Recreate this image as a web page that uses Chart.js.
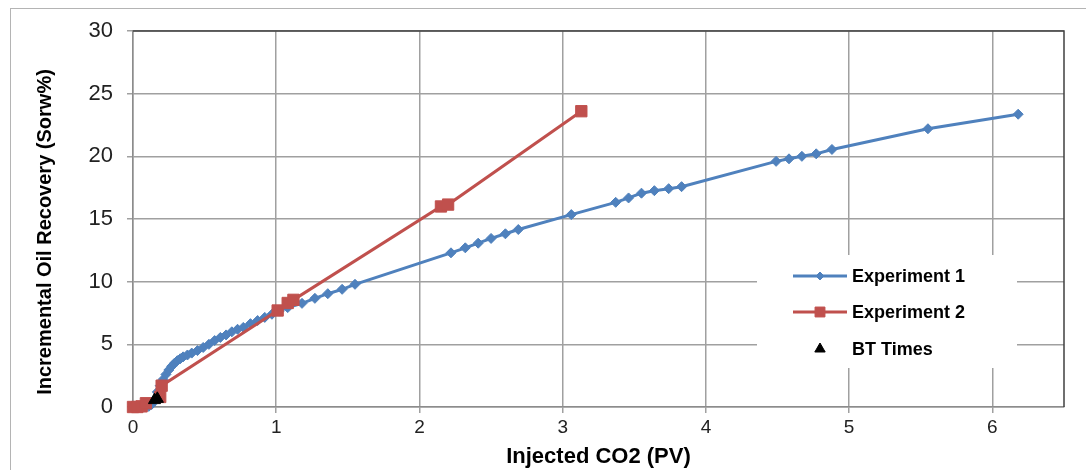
<!DOCTYPE html>
<html>
<head>
<meta charset="utf-8">
<title>Incremental Oil Recovery</title>
<script src="https://cdn.jsdelivr.net/npm/chart.js@4"></script>
<style>
  body { margin: 0; background: #fff; }
  canvas { display: block; }
</style>
</head>
<body>
<canvas id="myChart" width="1086" height="470"></canvas>
<script>
// injected CO2 (PV) vs incremental recovery (Sorw%)
let exp1X = [0.08, 0.11, 0.13, 0.15, 0.17, 0.19, 0.21, 0.23, 0.25, 0.27, 0.29, 0.31, 0.33, 0.35, 0.38, 0.41, 0.45, 0.49, 0.53, 0.57, 0.61, 0.65, 0.69, 0.73, 0.77, 0.82, 0.87, 0.92, 0.97, 1.02, 1.08, 1.18, 1.27, 1.36, 1.46, 1.55, 2.22, 2.32, 2.41, 2.5, 2.6, 2.69, 3.06, 3.37, 3.46, 3.55, 3.64, 3.74, 3.83, 4.49, 4.58, 4.67, 4.77, 4.88, 5.55, 6.18];
let exp1Y = [0, 0.05, 0.2, 0.6, 1.2, 1.7, 2.2, 2.6, 2.95, 3.25, 3.5, 3.7, 3.85, 4.0, 4.15, 4.3, 4.5, 4.75, 5.0, 5.3, 5.55, 5.75, 6.0, 6.2, 6.35, 6.65, 6.9, 7.15, 7.4, 7.65, 7.93, 8.27, 8.67, 9.04, 9.39, 9.79, 12.3, 12.7, 13.07, 13.45, 13.82, 14.16, 15.35, 16.33, 16.68, 17.06, 17.26, 17.42, 17.58, 19.6, 19.8, 20.0, 20.2, 20.55, 22.2, 23.36];

let exp2X = [0, 0.03, 0.06, 0.09, 0.19, 0.2, 1.01, 1.08, 1.12, 2.15, 2.2, 3.13];
let exp2Y = [0, 0, 0.05, 0.3, 0.8, 1.7, 7.7, 8.3, 8.55, 16.0, 16.15, 23.6];

let btX = [0.15, 0.17];
let btY = [0.55, 0.65];

let xTicks = [0, 1, 2, 3, 4, 5, 6];
let yTicks = [0, 5, 10, 15, 20, 25, 30];

let seriesNames = ["Experiment 1", "Experiment 2", "BT Times"];

const FONT = "Arial, 'Liberation Sans', sans-serif";
const BLUE = "#4F81BD";
const RED = "#C0504D";

function pts(xs, ys) {
  return xs.map((x, i) => ({ x: x, y: ys[i] }));
}

// outer frame, dark top/right plot border, y title and the boxed legend
const decorations = {
  id: "decorations",
  beforeDraw(chart) {
    let ctx = chart.ctx;
    ctx.save();
    ctx.fillStyle = "#fff";
    ctx.fillRect(0, 0, chart.width, chart.height);
    ctx.strokeStyle = "#b4b4b4";
    ctx.lineWidth = 1;
    ctx.strokeRect(10.5, 8.5, chart.width + 20, chart.height + 20);
    ctx.restore();
  },
  afterDatasetsDraw(chart) {
    let ctx = chart.ctx;
    let a = chart.chartArea;
    ctx.save();
    ctx.strokeStyle = "#404040";
    ctx.lineWidth = 1.5;
    ctx.beginPath();
    ctx.moveTo(a.left, a.top);
    ctx.lineTo(a.right, a.top);
    ctx.lineTo(a.right, a.bottom);
    ctx.stroke();

    // y axis title
    ctx.translate(45, 232);
    ctx.rotate(-Math.PI / 2);
    ctx.fillStyle = "#000";
    ctx.font = "bold 20px " + FONT;
    ctx.textAlign = "center";
    ctx.textBaseline = "middle";
    ctx.fillText("Incremental Oil Recovery (Sorw%)", 0, 0);
    ctx.restore();

    // legend, one row per series name
    ctx.save();
    ctx.fillStyle = "#fff";
    ctx.fillRect(757, 255, 260, 113);
    let rows = [276, 312, 349];
    ctx.font = "bold 18px " + FONT;
    ctx.textBaseline = "middle";
    ctx.textAlign = "left";
    seriesNames.forEach((name, i) => {
      let ds = chart.data.datasets.find((d) => d.label === name);
      let y = rows[i];
      if (ds.showLine) {
        ctx.strokeStyle = ds.borderColor;
        ctx.lineWidth = 3;
        ctx.beginPath();
        ctx.moveTo(793, y);
        ctx.lineTo(847, y);
        ctx.stroke();
      }
      ctx.fillStyle = ds.backgroundColor;
      ctx.strokeStyle = ds.borderColor;
      ctx.lineWidth = 1;
      Chart.helpers.drawPoint(ctx, {
        pointStyle: ds.pointStyle,
        radius: ds.legendRadius,
        rotation: 0,
        borderWidth: 1
      }, 820, y);
      ctx.fillStyle = "#000";
      ctx.fillText(ds.label, 852, y + 1);
    });
    ctx.restore();
  }
};

new Chart("myChart", {
  type: "scatter",
  data: {
    datasets: [
      {
        label: seriesNames[2],
        data: pts(btX, btY),
        showLine: false,
        pointStyle: "triangle",
        pointRadius: 7,
        legendRadius: 6,
        backgroundColor: "#000",
        borderColor: "#000",
        borderWidth: 1,
        order: 0,
        clip: false
      },
      {
        label: seriesNames[1],
        data: pts(exp2X, exp2Y),
        showLine: true,
        pointStyle: "rect",
        pointRadius: 8,
        legendRadius: 7,
        backgroundColor: RED,
        borderColor: RED,
        borderWidth: 3,
        pointBorderWidth: 1,
        order: 1,
        clip: false
      },
      {
        label: seriesNames[0],
        data: pts(exp1X, exp1Y),
        showLine: true,
        pointStyle: "rectRot",
        pointRadius: 5,
        legendRadius: 4,
        backgroundColor: BLUE,
        borderColor: BLUE,
        borderWidth: 3,
        pointBorderWidth: 1,
        order: 2,
        clip: false
      }
    ]
  },
  options: {
    responsive: false,
    animation: false,
    devicePixelRatio: 1,
    layout: { padding: { left: 0, top: 31, right: 22, bottom: 0 } },
    plugins: {
      legend: { display: false },
      tooltip: { enabled: false }
    },
    scales: {
      x: {
        type: "linear",
        min: 0,
        max: 6.5,
        afterBuildTicks: (s) => { s.ticks = xTicks.map((v) => ({ value: v })); },
        afterFit: (s) => { s.height = 63; },
        ticks: { font: { family: FONT, size: 19 }, color: "#222", padding: 3 },
        grid: { color: "#a0a0a0", lineWidth: 1.5, borderDash: [27, 2], tickLength: 6, tickColor: "#a0a0a0" },
        border: { color: "#8c8c8c", width: 1.5 },
        title: {
          display: true,
          text: "Injected CO2 (PV)",
          font: { family: FONT, size: 22, weight: "bold" },
          color: "#000",
          padding: { top: 0, bottom: 0 }
        }
      },
      y: {
        min: 0,
        max: 30,
        afterBuildTicks: (s) => { s.ticks = yTicks.map((v) => ({ value: v })); },
        afterFit: (s) => { s.width = 133; },
        ticks: { font: { family: FONT, size: 22 }, color: "#222", padding: 14 },
        grid: { color: "#a0a0a0", lineWidth: 1.5, borderDash: [27, 2], tickLength: 6, tickColor: "#a0a0a0" },
        border: { color: "#8c8c8c", width: 1.5 }
      }
    }
  },
  plugins: [decorations]
});
</script>
</body>
</html>
